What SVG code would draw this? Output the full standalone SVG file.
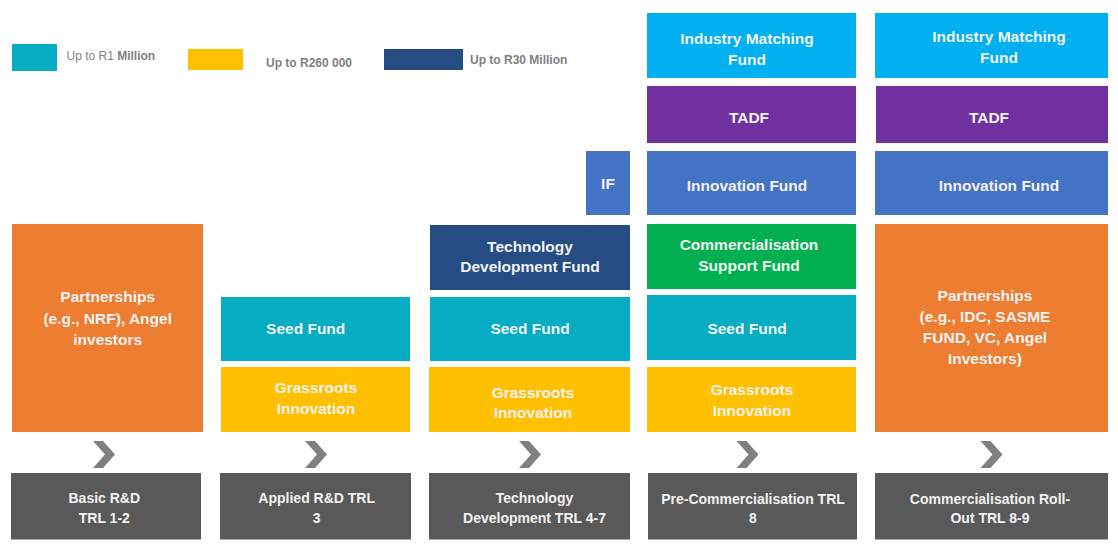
<svg xmlns="http://www.w3.org/2000/svg" xmlns:xlink="http://www.w3.org/1999/xlink" width="1118" height="550" viewBox="0 0 1118 550">
<style>
  text { font-family: "Liberation Sans", Arial, sans-serif; }
  .t { font-size: 15.5px; font-weight: bold; fill: #F2F2F2; text-anchor: middle; }
  .g { font-size: 14px; font-weight: bold; fill: #F2F2F2; text-anchor: middle; }
  .lg { font-size: 12px; fill: #7F7F7F; }
  .b { font-weight: bold; }
  .teal { fill: #06ACC1; }
  .orange { fill: #ED7D31; }
  .yellow { fill: #FFC000; }
  .navy { fill: #254C83; }
  .sky { fill: #00B0F0; }
  .purple { fill: #7030A0; }
  .blue { fill: #4472C4; }
  .green { fill: #00B050; }
  .dark { fill: #595959; }
  .chev { fill: #808080; }
</style>
<defs>
  <path id="chevron" d="M0,0 L10,0 L22,13.5 L10,27 L0,27 L12,13.5 Z"/>
</defs>
<rect width="1118" height="550" fill="#FFFFFF"/>

<g id="legend">
  <rect class="teal" x="12" y="44" width="45" height="27"/>
  <text class="lg" x="66.5" y="60">Up to R1 <tspan class="b">Million</tspan></text>
  <rect class="yellow" x="188" y="49" width="55" height="21"/>
  <text class="lg b" x="266" y="67">Up to R260 000</text>
  <rect class="navy" x="384" y="49" width="79" height="21"/>
  <text class="lg b" x="470" y="64">Up to R30 Million</text>
</g>

<!-- Column 1 -->
<g id="partnerships-1">
  <rect class="orange" x="12" y="224" width="191" height="208"/>
  <text class="t" x="107.7" y="302.3">Partnerships</text>
  <text class="t" x="107.7" y="324.3">(e.g., NRF), Angel</text>
  <text class="t" x="107.7" y="345">investors</text>
</g>
<g id="stage-1">
  <rect class="dark" x="11" y="473" width="190" height="66.5"/>
  <text class="g" x="104.3" y="503">Basic R&amp;D</text>
  <text class="g" x="104.3" y="523">TRL 1-2</text>
</g>

<!-- Column 2 -->
<g id="seed-2">
  <rect class="teal" x="221" y="297" width="189" height="64"/>
  <text class="t" x="305.7" y="334.3">Seed Fund</text>
</g>
<g id="grassroots-2">
  <rect class="yellow" x="221" y="367" width="189" height="65"/>
  <text class="t" x="316" y="393.3">Grassroots</text>
  <text class="t" x="316" y="414.3">Innovation</text>
</g>
<g id="stage-2">
  <rect class="dark" x="220" y="473" width="191" height="66.5"/>
  <text class="g" x="316.7" y="503.3">Applied R&amp;D TRL</text>
  <text class="g" x="316.7" y="522.7">3</text>
</g>

<!-- Column 3 -->
<g id="if-3">
  <rect class="blue" x="586" y="151" width="44" height="64"/>
  <text class="t" x="608" y="189.3">IF</text>
</g>
<g id="tdf-3">
  <rect class="navy" x="430" y="225" width="200" height="65"/>
  <text class="t" x="530" y="251.7">Technology</text>
  <text class="t" x="530" y="272.3">Development Fund</text>
</g>
<g id="seed-3">
  <rect class="teal" x="430" y="297" width="200" height="64"/>
  <text class="t" x="530" y="333.7">Seed Fund</text>
</g>
<g id="grassroots-3">
  <rect class="yellow" x="429" y="367" width="201" height="65"/>
  <text class="t" x="533" y="397.7">Grassroots</text>
  <text class="t" x="533" y="418.3">Innovation</text>
</g>
<g id="stage-3">
  <rect class="dark" x="429" y="473" width="201" height="66.5"/>
  <text class="g" x="534.5" y="503">Technology</text>
  <text class="g" x="534.5" y="523">Development TRL 4-7</text>
</g>

<!-- Column 4 -->
<g id="imf-4">
  <rect class="sky" x="647" y="13" width="209" height="65"/>
  <text class="t" x="747" y="44.3">Industry Matching</text>
  <text class="t" x="747" y="65">Fund</text>
</g>
<g id="tadf-4">
  <rect class="purple" x="647" y="86" width="209" height="57"/>
  <text class="t" x="749" y="123">TADF</text>
</g>
<g id="innovation-4">
  <rect class="blue" x="647" y="151" width="209" height="64"/>
  <text class="t" x="747" y="191">Innovation Fund</text>
</g>
<g id="csf-4">
  <rect class="green" x="647" y="224" width="209" height="65"/>
  <text class="t" x="749" y="250.3">Commercialisation</text>
  <text class="t" x="749" y="271">Support Fund</text>
</g>
<g id="seed-4">
  <rect class="teal" x="647" y="295" width="209" height="65"/>
  <text class="t" x="747" y="333.7">Seed Fund</text>
</g>
<g id="grassroots-4">
  <rect class="yellow" x="647" y="367" width="209" height="65"/>
  <text class="t" x="752" y="395">Grassroots</text>
  <text class="t" x="752" y="416">Innovation</text>
</g>
<g id="stage-4">
  <rect class="dark" x="648" y="473" width="209" height="66.5"/>
  <text class="g" x="753" y="504">Pre-Commercialisation TRL</text>
  <text class="g" x="753" y="523.3">8</text>
</g>

<!-- Column 5 -->
<g id="imf-5">
  <rect class="sky" x="875" y="13" width="233" height="65"/>
  <text class="t" x="999" y="42.3">Industry Matching</text>
  <text class="t" x="999" y="62.7">Fund</text>
</g>
<g id="tadf-5">
  <rect class="purple" x="876" y="86" width="232" height="57"/>
  <text class="t" x="989" y="123">TADF</text>
</g>
<g id="innovation-5">
  <rect class="blue" x="875" y="151" width="233" height="64"/>
  <text class="t" x="999" y="191">Innovation Fund</text>
</g>
<g id="partnerships-5">
  <rect class="orange" x="875" y="224" width="233" height="208"/>
  <text class="t" x="985" y="301">Partnerships</text>
  <text class="t" x="985" y="321.7">(e.g., IDC, SASME</text>
  <text class="t" x="985" y="343.3">FUND, VC, Angel</text>
  <text class="t" x="985" y="364.3">Investors)</text>
</g>
<g id="stage-5">
  <rect class="dark" x="875" y="473" width="233" height="66.5"/>
  <text class="g" x="990" y="504">Commercialisation Roll-</text>
  <text class="g" x="990" y="523.3">Out TRL 8-9</text>
</g>

<g id="connectors">
  <use xlink:href="#chevron" class="chev" x="93" y="441"/>
  <use xlink:href="#chevron" class="chev" x="305" y="441"/>
  <use xlink:href="#chevron" class="chev" x="519" y="441"/>
  <use xlink:href="#chevron" class="chev" x="736.5" y="441"/>
  <use xlink:href="#chevron" class="chev" x="980.5" y="441"/>
</g>
</svg>
